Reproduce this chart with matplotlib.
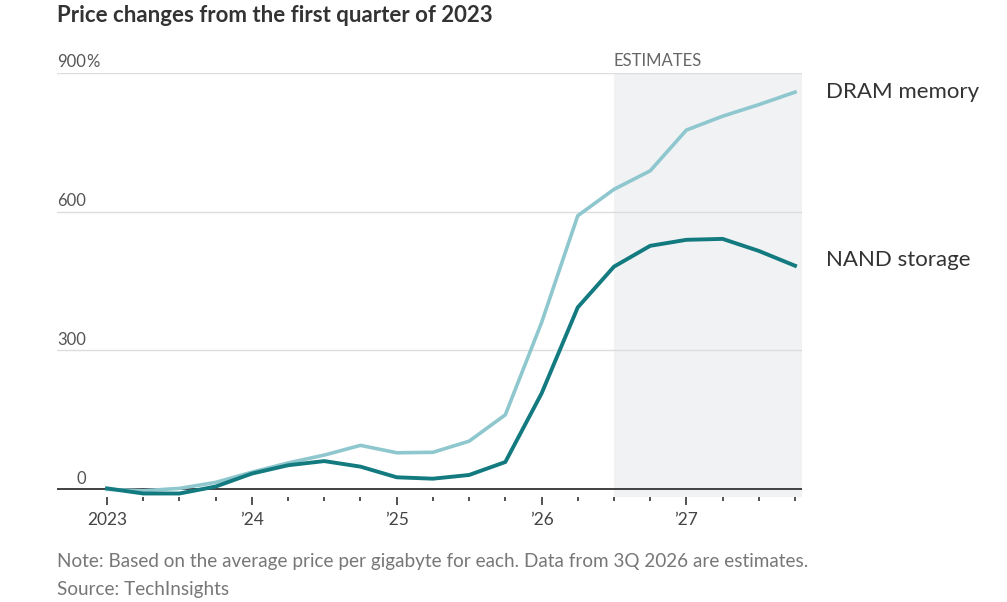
import numpy as np
import matplotlib.pyplot as plt
from matplotlib.ticker import FixedLocator

plt.rcParams['font.family'] = ['Lato', 'DejaVu Sans']

# --- data: quarterly price change vs 1Q 2023, in percent ---
quarters = ["1Q23", "2Q23", "3Q23", "4Q23", "1Q24", "2Q24", "3Q24", "4Q24",
            "1Q25", "2Q25", "3Q25", "4Q25", "1Q26", "2Q26", "3Q26", "4Q26",
            "1Q27", "2Q27", "3Q27", "4Q27"]
dram = [0, -3, 2, 15, 37, 57, 74, 95, 79, 80, 104, 161,
        360, 591, 648, 688, 776, 806, 831, 858]
nand = [2, -9, -9, 6, 34, 52, 61, 49, 26, 23, 31, 59,
        207, 393, 481, 526, 539, 541, 515, 483]
year_labels = ["2023", "\u201924", "\u201925", "\u201926", "\u201927"]
y_ticks = [0, 300, 600, 900]
estimate_start = 14  # 3Q 2026

c_dram = "#8fc7cf"
c_nand = "#137a80"

fig = plt.figure(figsize=(10.07, 6.02), dpi=100)
ax = fig.add_axes([57 / 1007, 1 - 497.2 / 602, 745 / 1007, (497.2 - 72.7) / 602])

x = np.arange(len(quarters))
ax.set_xlim(-1.381, 19.193)
ax.set_ylim(-17, 900)

# estimates shading
ax.axvspan(estimate_start, 19.193, color="#f0f2f4", zorder=0, lw=0)
ax.annotate("ESTIMATES", xy=(estimate_start, 900), xytext=(0, 3),
            textcoords="offset points", fontsize=12, color="#666666",
            ha="left", va="bottom", annotation_clip=False)

# gridlines
for v in y_ticks[1:]:
    ax.axhline(v, color="#dddddd", lw=1, zorder=1)
ax.axhline(0, color="#333333", lw=1.3, zorder=3)

ax.plot(x, dram, color=c_dram, lw=2.6, zorder=4, solid_joinstyle="round")
ax.plot(x, nand, color=c_nand, lw=2.8, zorder=5, solid_joinstyle="round")

# line labels
ax.annotate("DRAM memory", xy=(1.0, dram[-1]), xycoords=("axes fraction", "data"),
            xytext=(17, 0), textcoords="offset points", fontsize=16,
            color="#333333", va="center", ha="left", annotation_clip=False)
ax.annotate("NAND storage", xy=(1.0, 495), xycoords=("axes fraction", "data"),
            xytext=(17, 0), textcoords="offset points", fontsize=16,
            color="#333333", va="center", ha="left", annotation_clip=False)

# y labels above gridlines
for v in y_ticks:
    ax.annotate(str(v), xy=(29 / 745, v), xycoords=("axes fraction", "data"),
                xytext=(0, 2), textcoords="offset points", fontsize=12,
                color="#555555", ha="right", va="bottom", annotation_clip=False)
ax.annotate("%", xy=(29 / 745, 900), xycoords=("axes fraction", "data"),
            xytext=(0, 2), textcoords="offset points", fontsize=12,
            color="#555555", ha="left", va="bottom", annotation_clip=False)

# x ticks
ax.set_yticks([])
ax.xaxis.set_major_locator(FixedLocator(x[::4]))
ax.xaxis.set_minor_locator(FixedLocator([i for i in x if i % 4]))
ax.set_xticklabels(year_labels)
ax.tick_params(axis="x", which="major", length=6, width=1.2, color="#333333",
               labelsize=12.5, labelcolor="#444444", pad=5)
ax.tick_params(axis="x", which="minor", length=2.6, width=1.2, color="#333333")
for s in ax.spines.values():
    s.set_visible(False)

fig.text(57 / 1007, 1 - 16 / 602, "Price changes from the first quarter of 2023",
         fontsize=16, fontweight="bold", color="#333333", ha="left", va="center")
fig.text(57 / 1007, 1 - 562 / 602,
         "Note: Based on the average price per gigabyte for each. Data from 3Q 2026 are estimates.",
         fontsize=13.6, color="#777777", ha="left", va="center")
fig.text(57 / 1007, 1 - 589 / 602, "Source: TechInsights",
         fontsize=13.6, color="#777777", ha="left", va="center")

fig.savefig("out.png", dpi=100)
